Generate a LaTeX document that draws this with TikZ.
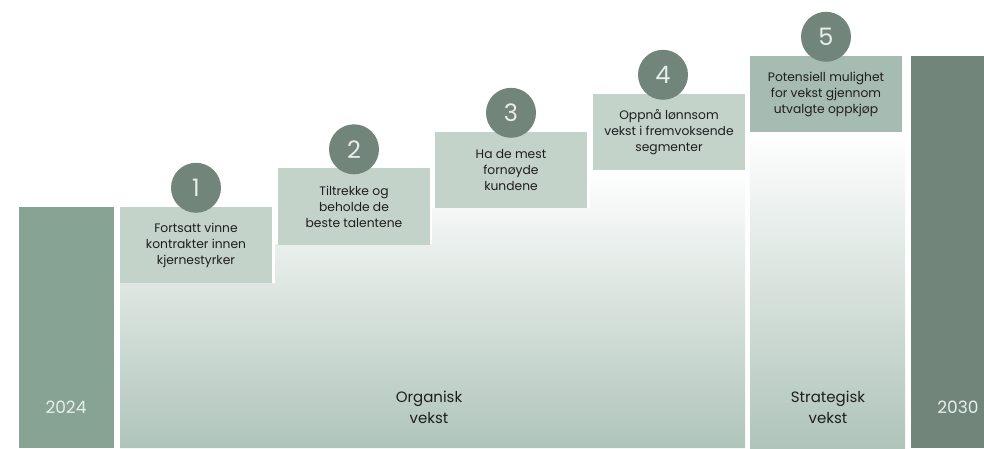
\documentclass[tikz,border=0pt]{standalone}
\usepackage{fontspec}
\setmainfont{Poppins}
\usepackage{xcolor}
\usepackage{tikz}
\usetikzlibrary{positioning,calc}

\definecolor{gvBar}{HTML}{86A394}
\definecolor{gvDark}{HTML}{72857A}
\definecolor{gvBox}{HTML}{C3D3CA}
\definecolor{gvBoxTop}{HTML}{A6BBB1}
\definecolor{gvPale}{HTML}{AFC4BA}
\definecolor{gvText}{HTML}{1E1E1E}
\definecolor{gvYear}{HTML}{E8EEEA}

\tikzset{
    goalbox/.style={fill=gvBox, minimum width=152pt, minimum height=76pt, inner sep=0pt,
        align=center, text=gvText, font=\fontsize{12.3}{16}\selectfont},
    numdot/.style={circle, fill=gvDark, minimum size=50pt, inner sep=0pt,
        text=gvYear, font=\fontsize{24}{24}\selectfont},
    yearlbl/.style={text=gvYear, font=\fontsize{17}{17}\selectfont},
    phaselbl/.style={align=center, text=gvText, font=\fontsize{15}{21}\selectfont}
}

\begin{document}
\begin{tikzpicture}[x=1pt, y=-1pt]
    \useasboundingbox (0,0) rectangle (984,449);

    % year bars
    \fill[gvBar] (19,207) rectangle (114,448);
    \fill[gvDark] (911,56) rectangle (984,448);
    \node[yearlbl] (y2024) at (66,407) {2024};
    \node[yearlbl] (y2030) at (958,407) {2030};

    % growth areas
    \shade[top color=white, middle color=gvPale!80!white, bottom color=gvPale]
        (120,448) -- (120,283) -- (275,283) -- (275,244) -- (432,244) -- (432,208)
        -- (590,208) -- (590,170) -- (745,170) -- (745,448) -- cycle;
    \shade[top color=white, middle color=gvPale!85!white, bottom color=gvPale]
        (750,132) rectangle (905,448);
    \node[phaselbl] (organic) at (429,407) {Organisk\\vekst};
    \node[phaselbl] (strategic) at (828,407) {Strategisk\\vekst};

    % goals
    \node[goalbox] (b1) at (196,245) {Fortsatt vinne\\kontrakter innen\\kjernestyrker};
    \node[goalbox] (b2) at (354,206.5) {Tiltrekke og\\beholde de\\beste talentene};
    \node[goalbox] (b3) at (511,170) {Ha de mest\\fornøyde\\kundene};
    \node[goalbox] (b4) at (669,132) {Oppnå lønnsom\\vekst i fremvoksende\\segmenter};
    \node[goalbox, fill=gvBoxTop] (b5) at (826,94) {Potensiell mulighet\\for vekst gjennom\\utvalgte oppkjøp};

    \node[numdot] (n1) at ([yshift=19pt]b1.north) {1};
    \node[numdot] (n2) at ([yshift=19pt]b2.north) {2};
    \node[numdot] (n3) at ([yshift=19pt]b3.north) {3};
    \node[numdot] (n4) at ([xshift=-6pt, yshift=19pt]b4.north) {4};
    \node[numdot] (n5) at ([yshift=19pt]b5.north) {5};
\end{tikzpicture}
\end{document}
